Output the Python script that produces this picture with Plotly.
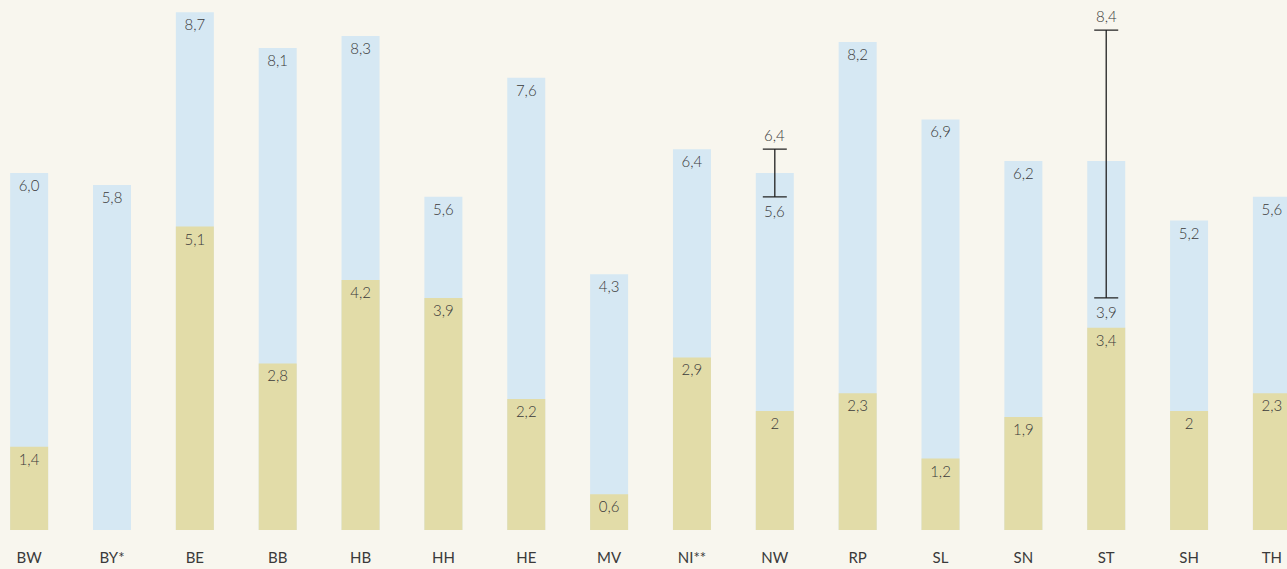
import plotly.graph_objects as go

categories = ["BW", "BY*", "BE", "BB", "HB", "HH", "HE", "MV", "NI**", "NW", "RP", "SL", "SN", "ST", "SH", "TH"]
total_values = [6.0, 5.8, 8.7, 8.1, 8.3, 5.6, 7.6, 4.3, 6.4, 6.0, 8.2, 6.9, 6.2, 6.2, 5.2, 5.6]
total_labels = ["6,0", "5,8", "8,7", "8,1", "8,3", "5,6", "7,6", "4,3", "6,4", "", "8,2", "6,9", "6,2", "", "5,2", "5,6"]
part_values = [1.4, None, 5.1, 2.8, 4.2, 3.9, 2.2, 0.6, 2.9, 2.0, 2.3, 1.2, 1.9, 3.4, 2.0, 2.3]
part_labels = ["1,4", "", "5,1", "2,8", "4,2", "3,9", "2,2", "0,6", "2,9", "2", "2,3", "1,2", "1,9", "3,4", "2", "2,3"]

# confidence ranges (only for NW and ST)
err_cats = ["NW", "ST"]
err_center = [6.0, 6.2]
err_low = [5.6, 3.9]
err_high = [6.4, 8.4]
err_low_labels = ["5,6", "3,9"]
err_high_labels = ["6,4", "8,4"]

BG = "#f8f6ee"
BLUE = "#d6e8f3"
OLIVE = "#e2dca8"
TXT = "#3a3a3a"
FONT = "Lato"
LABEL_FONT = dict(family=FONT, size=15, color=TXT, weight=300)

fig = go.Figure()
fig.add_trace(go.Bar(
    x=categories, y=total_values, marker=dict(color=BLUE, line=dict(width=0)),
    width=0.4587, text=total_labels, textposition="inside", insidetextanchor="end",
    textangle=0, textfont=LABEL_FONT,
    cliponaxis=False, showlegend=False, hoverinfo="skip",
))
fig.add_trace(go.Bar(
    x=categories, y=part_values, marker=dict(color=OLIVE, line=dict(width=0)),
    width=0.4587, text=part_labels, textposition="inside", insidetextanchor="end",
    textangle=0, textfont=LABEL_FONT,
    cliponaxis=False, showlegend=False, hoverinfo="skip",
))
fig.add_trace(go.Scatter(
    x=err_cats, y=err_center, mode="markers",
    marker=dict(size=0.1, color="rgba(0,0,0,0)"),
    error_y=dict(type="data", symmetric=False,
                 array=[h - c for h, c in zip(err_high, err_center)],
                 arrayminus=[c - l for l, c in zip(err_low, err_center)],
                 color="#222222", thickness=1.3, width=12),
    showlegend=False, hoverinfo="skip", cliponaxis=False,
))
for c, hv, hl, lv, ll in zip(err_cats, err_high, err_high_labels, err_low, err_low_labels):
    fig.add_annotation(x=c, y=hv, text=hl, showarrow=False, yanchor="bottom",
                       yshift=3, font=LABEL_FONT)
    fig.add_annotation(x=c, y=lv, text=ll, showarrow=False, yanchor="top",
                       yshift=-3, font=LABEL_FONT)

fig.update_layout(
    width=1287, height=569, barmode="overlay",
    paper_bgcolor=BG, plot_bgcolor=BG,
    margin=dict(l=0, r=0, t=0, b=39),
    font=dict(family=FONT, color=TXT),
    xaxis=dict(range=[-0.3518, 15.182], showgrid=False, zeroline=False, showline=False,
               ticks="", tickfont=dict(family=FONT, size=15, color=TXT), ticklabelstandoff=17),
    yaxis=dict(range=[0, 8.907], visible=False, showgrid=False, zeroline=False),
)
fig.write_html(
    "out.html",
    config={"displayModeBar": False},
    post_script="document.body.style.margin='0';document.body.style.background='" + BG + "';document.body.style.overflow='hidden';",
)
